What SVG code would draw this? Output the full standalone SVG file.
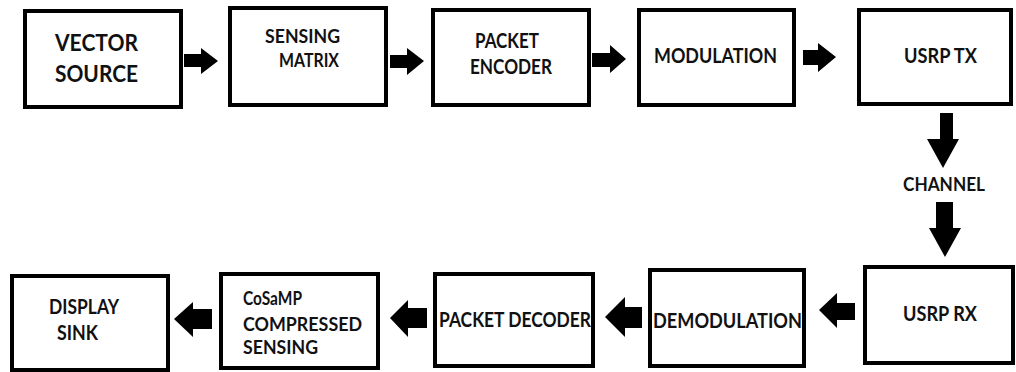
<svg xmlns="http://www.w3.org/2000/svg" width="1016" height="372" viewBox="0 0 1016 372">
  <style>
    .box { fill: #ffffff; stroke: #000000; stroke-width: 4; }
    .arr { fill: #000000; stroke: none; }
    .lbl { font-family: Lato, "Open Sans", "Liberation Sans", sans-serif; font-weight: 700; font-size: 20px; fill: #111111; }
    .big { font-size: 23px; }
    .sm { font-size: 19px; }
  </style>
  <rect width="1016" height="372" fill="#ffffff"/>

  <!-- transmit chain -->
  <g id="vector-source">
    <rect class="box" x="25" y="11" width="156" height="96"/>
    <text class="lbl big" x="55" y="51" textLength="83" lengthAdjust="spacingAndGlyphs">VECTOR</text>
    <text class="lbl big" x="55" y="82" textLength="83" lengthAdjust="spacingAndGlyphs">SOURCE</text>
  </g>
  <g id="sensing-matrix">
    <rect class="box" x="230" y="8" width="156" height="97"/>
    <text class="lbl sm" x="265" y="43" textLength="75" lengthAdjust="spacingAndGlyphs">SENSING</text>
    <text class="lbl sm" x="279" y="67" textLength="60" lengthAdjust="spacingAndGlyphs">MATRIX</text>
  </g>
  <g id="packet-encoder">
    <rect class="box" x="433" y="10" width="156" height="95"/>
    <text class="lbl" x="475" y="48" textLength="64" lengthAdjust="spacingAndGlyphs">PACKET</text>
    <text class="lbl" x="470" y="74" textLength="82" lengthAdjust="spacingAndGlyphs">ENCODER</text>
  </g>
  <g id="modulation">
    <rect class="box" x="639" y="10" width="155" height="95"/>
    <text class="lbl" x="654" y="63" textLength="123" lengthAdjust="spacingAndGlyphs">MODULATION</text>
  </g>
  <g id="usrp-tx">
    <rect class="box" x="859" y="10" width="152" height="94"/>
    <text class="lbl" x="904" y="63" textLength="73" lengthAdjust="spacingAndGlyphs">USRP TX</text>
  </g>

  <!-- channel label between the radios -->
  <g id="channel">
    <text class="lbl sm" x="903" y="191" textLength="82" lengthAdjust="spacingAndGlyphs">CHANNEL</text>
  </g>

  <!-- receive chain -->
  <g id="usrp-rx">
    <rect class="box" x="865" y="267" width="148" height="96"/>
    <text class="lbl" x="903" y="321" textLength="74" lengthAdjust="spacingAndGlyphs">USRP RX</text>
  </g>
  <g id="demodulation">
    <rect class="box" x="650" y="270" width="154" height="96"/>
    <text class="lbl" x="653" y="328" textLength="149" lengthAdjust="spacingAndGlyphs">DEMODULATION</text>
  </g>
  <g id="packet-decoder">
    <rect class="box" x="435" y="274" width="158" height="92"/>
    <text class="lbl" x="439" y="327" textLength="152" lengthAdjust="spacingAndGlyphs">PACKET DECODER</text>
  </g>
  <g id="cosamp">
    <rect class="box" x="221" y="274" width="157" height="94"/>
    <text class="lbl sm" x="243" y="305" textLength="59" lengthAdjust="spacingAndGlyphs">CoSaMP</text>
    <text class="lbl sm" x="243" y="331" textLength="119" lengthAdjust="spacingAndGlyphs">COMPRESSED</text>
    <text class="lbl sm" x="243" y="354" textLength="75" lengthAdjust="spacingAndGlyphs">SENSING</text>
  </g>
  <g id="display-sink">
    <rect class="box" x="12" y="276" width="156" height="94"/>
    <text class="lbl" x="49" y="314" textLength="70" lengthAdjust="spacingAndGlyphs">DISPLAY</text>
    <text class="lbl" x="57" y="340" textLength="41" lengthAdjust="spacingAndGlyphs">SINK</text>
  </g>

  <!-- block arrows -->
  <g id="connectors">
    <path class="arr" d="M184,54 H201 V48 L218,61 L201,74 V67 H184 Z"/>
    <path class="arr" d="M390,55 H407 V48 L424,61 L407,75 V68 H390 Z"/>
    <path class="arr" d="M592,53 H610 V45 L626,59 L610,73 V67 H592 Z"/>
    <path class="arr" d="M803,50 H818 V43 L836,57 L818,72 V65 H803 Z"/>
    <path class="arr" d="M940,113 H953 V139 H959 L943,168 L927,139 H940 Z"/>
    <path class="arr" d="M936,202 H953 V228 H961 L945,257 L929,228 H936 Z"/>
    <path class="arr" d="M855,303 H837 V293 L819,310 L837,328 V320 H855 Z"/>
    <path class="arr" d="M642,307 H625 V297 L605,317 L625,337 V328 H642 Z"/>
    <path class="arr" d="M427,308 H408 V300 L390,318 L408,337 V328 H427 Z"/>
    <path class="arr" d="M212,309 H193 V302 L174,319 L193,337 V329 H212 Z"/>
  </g>
</svg>
